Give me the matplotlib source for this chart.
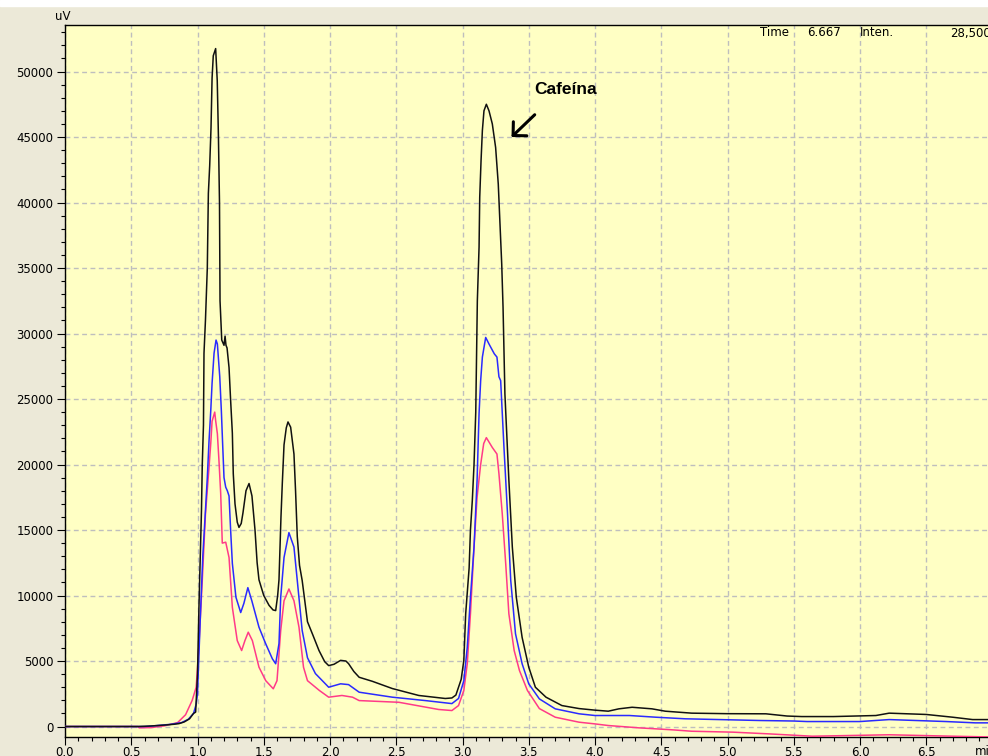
import numpy as np
import matplotlib.pyplot as plt
from matplotlib.patches import Rectangle
from matplotlib.ticker import MultipleLocator, FormatStrFormatter

# chromatogram traces (time in min, signal in uV)
t_black = [0.00, 0.55, 0.65, 0.75, 0.82, 0.86, 0.90, 0.94, 0.97, 0.986, 1.000, 1.011, 1.020, 1.030,
           1.036, 1.045, 1.049, 1.060, 1.074, 1.082, 1.092, 1.102, 1.110, 1.119, 1.137, 1.149,
           1.158, 1.166, 1.170, 1.183, 1.200, 1.208, 1.215, 1.223, 1.238, 1.250, 1.263, 1.270,
           1.283, 1.300, 1.313, 1.330, 1.343, 1.366, 1.389, 1.411, 1.434, 1.450, 1.464, 1.500,
           1.540, 1.570, 1.590, 1.605, 1.615, 1.630, 1.640, 1.653, 1.670, 1.683, 1.703, 1.728,
           1.740, 1.753, 1.770, 1.790, 1.830, 1.870, 1.917, 1.960, 1.990, 2.030, 2.080, 2.120,
           2.140, 2.180, 2.220, 2.320, 2.470, 2.670, 2.870, 2.920, 2.950, 2.970, 2.990, 3.010,
           3.024, 3.050, 3.060, 3.074, 3.087, 3.100, 3.112, 3.125, 3.130, 3.140, 3.150, 3.162,
           3.180, 3.200, 3.225, 3.250, 3.270, 3.283, 3.296, 3.306, 3.320, 3.350, 3.376, 3.406,
           3.450, 3.500, 3.550, 3.630, 3.750, 3.880, 4.000, 4.100, 4.180, 4.280, 4.430, 4.530,
           4.730, 5.000, 5.290, 5.450, 5.560, 5.800, 6.120, 6.220, 6.500, 6.700, 6.850, 7.000]
y_black = [0, 0, 40, 110, 170, 220, 350, 590, 1000, 1100, 4000, 9150, 12500, 16500,
           20000, 23000, 28500, 31000, 35000, 40700, 42800, 45700, 49500, 51200, 51750, 49300,
           45000, 40000, 32500, 29500, 29100, 29800, 29100, 28900, 27400, 24900, 22400, 19300,
           17000, 15600, 15200, 15500, 16300, 18000, 18550, 17600, 15000, 12500, 11200, 10000,
           9250, 8900, 8850, 10000, 11200, 16000, 18550, 21500, 22800, 23250, 22850, 20800,
           18000, 14500, 12300, 11150, 8000, 7000, 5800, 4950, 4650, 4750, 5050, 5000,
           4800, 4200, 3760, 3450, 2900, 2370, 2140, 2180, 2400, 3000, 3600, 5040,
           8600, 12100, 15000, 17250, 20000, 24000, 32500, 36600, 40400, 43200, 45500, 47000,
           47500, 47000, 46000, 44200, 41400, 38400, 35300, 32000, 25400, 18800, 13700, 9870,
           6800, 4530, 3000, 2240, 1600, 1370, 1250, 1170, 1350, 1470, 1350, 1170,
           1020, 980, 970, 800, 760, 760, 840, 1020, 920, 710, 530, 530]

t_blue = [0.00, 0.60, 0.63, 0.70, 0.80, 0.88, 0.93, 0.97, 0.99, 1.00, 1.02, 1.04, 1.06, 1.074,
          1.087, 1.100, 1.110, 1.125, 1.140, 1.150, 1.168, 1.180, 1.190, 1.200, 1.213, 1.225,
          1.238, 1.250, 1.263, 1.290, 1.326, 1.350, 1.380, 1.410, 1.464, 1.515, 1.565, 1.590,
          1.615, 1.628, 1.653, 1.690, 1.728, 1.753, 1.790, 1.830, 1.890, 1.990, 2.080, 2.140,
          2.220, 2.470, 2.720, 2.920, 2.970, 3.010, 3.036, 3.060, 3.087, 3.110, 3.125, 3.137,
          3.150, 3.175, 3.200, 3.240, 3.260, 3.275, 3.288, 3.313, 3.340, 3.364, 3.400, 3.450,
          3.500, 3.580, 3.700, 3.880, 4.000, 4.260, 4.460, 4.680, 5.240, 5.500, 5.600, 6.000,
          6.220, 6.650, 6.870, 7.000]
y_blue = [0, 0, 20, 80, 170, 300, 550, 1000, 1700, 2500, 8000, 13000, 16500, 19000,
          21800, 24100, 26200, 28500, 29500, 29200, 26700, 24100, 21500, 19000, 18270, 18000,
          17600, 15000, 12450, 9870, 8700, 9400, 10600, 9600, 7580, 6310, 5170, 4790,
          6330, 9870, 12900, 14800, 13700, 11150, 7330, 5250, 4040, 3000, 3260, 3200,
          2620, 2240, 1980, 1750, 2140, 3500, 6050, 9870, 13700, 18800, 23900, 26400,
          28200, 29700, 29200, 28450, 28200, 26700, 26400, 21300, 16200, 11150, 7080, 4790,
          3260, 2110, 1350, 970, 840, 840, 710, 590, 460, 420, 380, 380,
          530, 380, 280, 280]

t_red = [0.00, 0.55, 0.56, 0.65, 0.75, 0.85, 0.91, 0.96, 0.99, 1.00, 1.010, 1.036, 1.060, 1.087,
         1.100, 1.110, 1.130, 1.137, 1.150, 1.162, 1.175, 1.187, 1.213, 1.238, 1.263, 1.300,
         1.333, 1.358, 1.383, 1.414, 1.464, 1.515, 1.572, 1.600, 1.628, 1.653, 1.690, 1.728,
         1.766, 1.800, 1.830, 1.920, 1.990, 2.090, 2.170, 2.220, 2.520, 2.820, 2.920, 2.970,
         3.010, 3.036, 3.060, 3.087, 3.110, 3.137, 3.160, 3.180, 3.225, 3.260, 3.275, 3.300,
         3.326, 3.350, 3.390, 3.430, 3.490, 3.580, 3.700, 3.880, 4.000, 4.100, 4.330, 4.580,
         4.730, 5.040, 5.310, 5.640, 6.220, 6.700, 7.000]
y_red = [0, 0, -100, -80, 50, 300, 900, 2000, 3000, 4500, 6050, 11150, 16200, 19800,
         21600, 23300, 24000, 23350, 22350, 20300, 17800, 14000, 14070, 12900, 9100, 6560,
         5800, 6560, 7200, 6560, 4530, 3500, 2880, 3500, 7330, 9600, 10500, 9600,
         7580, 4530, 3500, 2750, 2240, 2370, 2240, 1980, 1850, 1300, 1220, 1600,
         2750, 4800, 8600, 13700, 17500, 20000, 21600, 22050, 21300, 20800, 19300, 16250,
         12450, 8600, 5800, 4270, 2750, 1370, 710, 330, 200, 76, -100, -250,
         -360, -430, -560, -740, -630, -740, -800]

x_ticks = [0.0, 0.5, 1.0, 1.5, 2.0, 2.5, 3.0, 3.5, 4.0, 4.5, 5.0, 5.5, 6.0, 6.5]
y_ticks = [0, 5000, 10000, 15000, 20000, 25000, 30000, 35000, 40000, 45000, 50000]

W, H = 988, 756


def fx(px):
    return px / W


def fy(py):
    return 1 - py / H


fig = plt.figure(figsize=(W / 100, H / 100), dpi=100)
fig.patch.set_facecolor('#ECE9D8')
fig.add_artist(Rectangle((0, fy(6)), 1, 6 / H, transform=fig.transFigure,
                         color='white', zorder=0))

ax = fig.add_axes([fx(65), fy(737), 927.5 / W, 712 / H])
ax.set_facecolor('#FFFFC4')

ax.plot(t_red, y_red, color='#FF3A88', lw=1.1, zorder=3)
ax.plot(t_blue, y_blue, color='#2A2AFF', lw=1.1, zorder=4)
ax.plot(t_black, y_black, color='#111111', lw=1.1, zorder=5)

ax.set_xlim(0, 7.0)
ax.set_ylim(-800, 53550)

ax.set_xticks(x_ticks)
ax.set_yticks(y_ticks)
ax.xaxis.set_major_formatter(FormatStrFormatter('%.1f'))
ax.xaxis.set_minor_locator(MultipleLocator(0.1))
ax.yaxis.set_minor_locator(MultipleLocator(1000))
ax.tick_params(which='major', direction='out', length=6, width=0.8, labelsize=8.5,
               colors='black')
ax.tick_params(which='minor', direction='out', length=3, width=0.8)
ax.tick_params(axis='x', which='major', pad=0.5)
ax.tick_params(axis='y', which='major', pad=2.5)

ax.grid(True, which='major', color='#BEBEBE', lw=1.0, linestyle=(0, (3.5, 2.5)))
ax.set_axisbelow(True)

for s in ['left', 'bottom', 'top']:
    ax.spines[s].set_linewidth(1.0)
    ax.spines[s].set_color('black')
ax.spines['right'].set_visible(False)

fig.text(fx(55), fy(17), 'uV', fontsize=8.5, va='center', ha='left')
fig.text(fx(975), fy(745), 'min', fontsize=8.5, va='top', ha='left')

fig.text(fx(760), fy(33), 'Time', fontsize=8.5, va='center', ha='left')
fig.text(fx(807), fy(33), '6.667', fontsize=8.5, va='center', ha='left')
fig.text(fx(860), fy(33), 'Inten.', fontsize=8.5, va='center', ha='left')
fig.text(fx(950), fy(33), '28,500', fontsize=8.5, va='center', ha='left')

ax.text(3.545, 48600, 'Cafeína', fontsize=12.5, fontweight='bold',
        family='Liberation Sans', va='center', ha='left')
ax.annotate('', xy=(3.37, 45000), xytext=(3.545, 46700),
            arrowprops=dict(arrowstyle='->,head_length=0.35,head_width=0.35',
                            lw=2.2, color='black', shrinkA=0, shrinkB=0,
                            mutation_scale=20))

fig.savefig('out.png', dpi=100, facecolor=fig.get_facecolor())
